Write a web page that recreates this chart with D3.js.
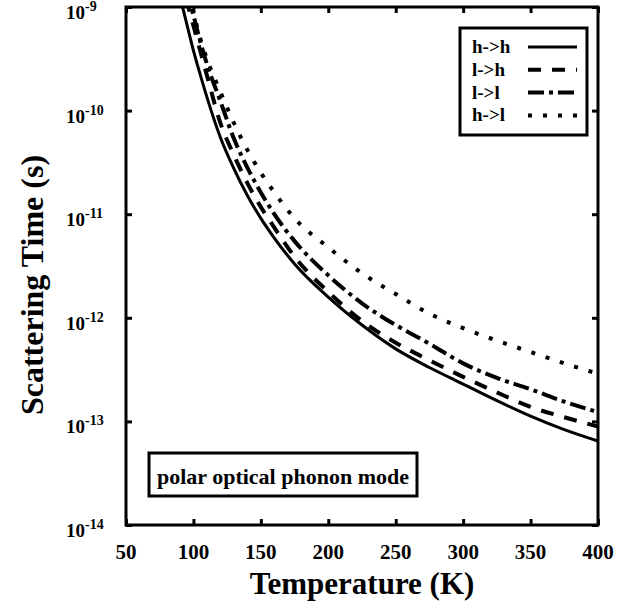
<!DOCTYPE html>
<meta charset="utf-8">
<head>
    <title>Scattering time vs temperature</title>
    <style>
        body { margin: 0; background: #fff; }
        text { font-family: "Liberation Serif", "Times New Roman", serif; font-weight: bold; fill: #000; }
    </style>
</head>
<body>
    <script src="https://d3js.org/d3.v7.min.js"></script>
    <script>
        // temperatures (K) where the curves were read
        var temps = [90, 95, 100, 105, 110, 120, 130, 140, 150, 160, 175, 200, 225, 250, 275, 300, 325, 350, 375, 400];

        // log10 of scattering time (s)
        var hhLog = [-8.90, -9.16, -9.42, -9.65, -9.87, -10.26, -10.56, -10.82, -11.04, -11.23, -11.48, -11.80, -12.07, -12.30, -12.48, -12.64, -12.80, -12.95, -13.08, -13.19];
        var lhLog = [-8.70, -8.94, -9.18, -9.42, -9.66, -10.12, -10.43, -10.70, -10.93, -11.13, -11.41, -11.75, -12.03, -12.24, -12.41, -12.57, -12.72, -12.86, -12.96, -13.05];
        var llLog = [-8.55, -8.83, -9.08, -9.33, -9.55, -9.91, -10.27, -10.55, -10.79, -11.00, -11.26, -11.59, -11.86, -12.07, -12.25, -12.44, -12.58, -12.69, -12.81, -12.91];
        var hlLog = [-8.45, -8.78, -9.05, -9.30, -9.50, -9.82, -10.12, -10.38, -10.60, -10.79, -11.04, -11.32, -11.57, -11.77, -11.96, -12.10, -12.22, -12.33, -12.44, -12.54];

        var seriesNames = ["h->h", "l->h", "l->l", "h->l"];
        var xTicks = [50, 100, 150, 200, 250, 300, 350, 400];
        var yExponents = [-9, -10, -11, -12, -13, -14];

        var width = 629, height = 607;
        var margin = { top: 7, right: 31, bottom: 82, left: 126 };

        var svg = d3.select("body")
            .append("svg")
            .attr("width", width)
            .attr("height", height);

        var x = d3.scaleLinear()
            .domain([50, 400])
            .range([margin.left, width - margin.right]);

        var y = d3.scaleLog()
            .domain([1e-14, 1e-9])
            .range([height - margin.bottom, margin.top]);

        // line styles for each series
        var styles = [
            { dash: null, w: 3 },
            { dash: "13,11", w: 4 },
            { dash: "16,5,4,5", w: 4 },
            { dash: "4,11", w: 4 }
        ];

        var allLogs = [hhLog, lhLog, llLog, hlLog];
        var series = allLogs.map(function (logs, i) {
            return {
                name: seriesNames[i],
                values: temps.map(function (t, j) {
                    return { t: t, v: Math.pow(10, logs[j]) };
                })
            };
        });

        svg.append("clipPath")
            .attr("id", "plotclip")
            .append("rect")
            .attr("x", x(50))
            .attr("y", y(1e-9))
            .attr("width", x(400) - x(50))
            .attr("height", y(1e-14) - y(1e-9));

        var line = d3.line()
            .curve(d3.curveMonotoneX)
            .x(function (d) { return x(d.t); })
            .y(function (d) { return y(d.v); });

        svg.append("g")
            .attr("clip-path", "url(#plotclip)")
            .selectAll("path")
            .data(series)
            .enter()
            .append("path")
            .attr("d", function (d) { return line(d.values); })
            .attr("fill", "none")
            .attr("stroke", "#000")
            .attr("stroke-width", function (d, i) { return styles[i].w; })
            .attr("stroke-dasharray", function (d, i) { return styles[i].dash; });

        // frame
        svg.append("rect")
            .attr("x", x(50))
            .attr("y", y(1e-9))
            .attr("width", x(400) - x(50))
            .attr("height", y(1e-14) - y(1e-9))
            .attr("fill", "none")
            .attr("stroke", "#000")
            .attr("stroke-width", 3);

        // inward ticks on all four sides
        var bottomAxis = d3.axisBottom(x).tickValues(xTicks).tickSize(-6).tickFormat("");
        var topAxis = d3.axisTop(x).tickValues(xTicks).tickSize(-6).tickFormat("");
        var yVals = yExponents.map(function (e) { return Math.pow(10, e); });
        var leftAxis = d3.axisLeft(y).tickValues(yVals).tickSize(-6).tickFormat("");
        var rightAxis = d3.axisRight(y).tickValues(yVals).tickSize(-6).tickFormat("");

        [[bottomAxis, "translate(0," + y(1e-14) + ")"],
         [topAxis, "translate(0," + y(1e-9) + ")"],
         [leftAxis, "translate(" + x(50) + ",0)"],
         [rightAxis, "translate(" + x(400) + ",0)"]].forEach(function (a) {
            var g = svg.append("g").attr("transform", a[1]).call(a[0]);
            g.select(".domain").remove();
            g.selectAll("line").attr("stroke", "#000").attr("stroke-width", 3);
        });

        // x tick labels
        svg.append("g")
            .selectAll("text")
            .data(xTicks)
            .enter()
            .append("text")
            .attr("x", function (d) { return x(d); })
            .attr("y", 559)
            .attr("text-anchor", "middle")
            .style("font-size", "21px")
            .text(function (d) { return d; });

        // y tick labels, 10 with superscript exponent
        var yLab = svg.append("g")
            .selectAll("text")
            .data(yExponents)
            .enter()
            .append("text")
            .attr("x", 66)
            .attr("y", function (d) { return y(Math.pow(10, d)) + 12; })
            .style("font-size", "19px");
        yLab.append("tspan").text("10");
        yLab.append("tspan")
            .attr("dy", -8)
            .style("font-size", "14px")
            .text(function (d) { return d; });

        // axis titles
        svg.append("text")
            .attr("x", (x(50) + x(400)) / 2)
            .attr("y", 594)
            .attr("text-anchor", "middle")
            .style("font-size", "31px")
            .text("Temperature (K)");

        svg.append("text")
            .attr("transform", "translate(43," + 285 + ") rotate(-90)")
            .attr("text-anchor", "middle")
            .style("font-size", "32px")
            .text("Scattering Time (s)");

        // legend
        var legend = svg.append("g").attr("id", "legend");
        legend.append("rect")
            .attr("x", 460)
            .attr("y", 28)
            .attr("width", 127)
            .attr("height", 107)
            .attr("fill", "#fff")
            .attr("stroke", "#000")
            .attr("stroke-width", 3);

        var rows = legend.selectAll("g.row")
            .data(seriesNames)
            .enter()
            .append("g")
            .attr("class", "row")
            .attr("transform", function (d, i) { return "translate(0," + (47 + i * 22.8) + ")"; });
        rows.append("text")
            .attr("x", 472)
            .attr("y", 6)
            .style("font-size", "19px")
            .text(function (d) { return d; });
        rows.append("line")
            .attr("x1", 528)
            .attr("x2", 577)
            .attr("y1", 0)
            .attr("y2", 0)
            .attr("stroke", "#000")
            .attr("stroke-width", function (d, i) { return styles[i].w; })
            .attr("stroke-dasharray", function (d, i) { return styles[i].dash; });

        // annotation box
        svg.append("rect")
            .attr("x", 149)
            .attr("y", 453)
            .attr("width", 268)
            .attr("height", 43)
            .attr("fill", "#fff")
            .attr("stroke", "#000")
            .attr("stroke-width", 3);
        svg.append("text")
            .attr("x", 283)
            .attr("y", 484)
            .attr("text-anchor", "middle")
            .style("font-size", "22px")
            .text("polar optical phonon mode");
    </script>
</body>
</html>
